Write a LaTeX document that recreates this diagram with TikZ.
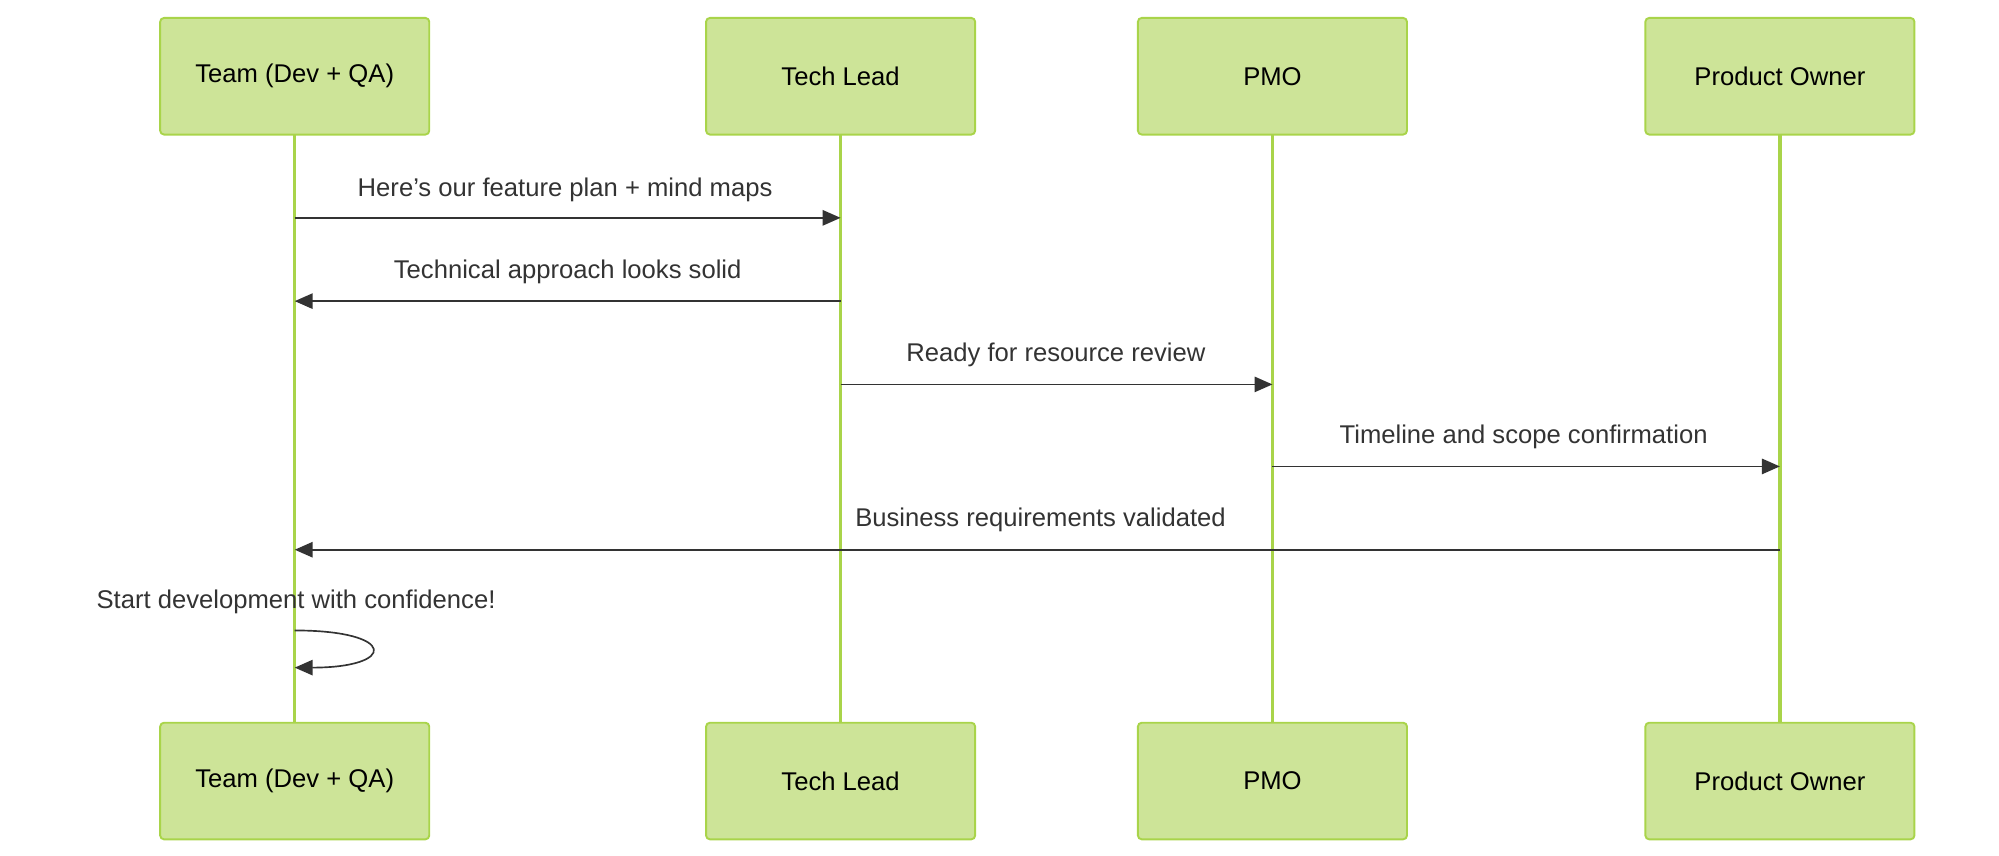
\documentclass[tikz,border=0pt]{standalone}
\usepackage{fontspec}
\setmainfont{Liberation Sans}
\usetikzlibrary{arrows.meta,positioning}
\definecolor{actfill}{HTML}{CDE498}
\definecolor{actline}{HTML}{A9D44A}
\definecolor{msgcol}{HTML}{333333}
\tikzset{
  actor/.style={draw=actline,fill=actfill,line width=1.5pt,rounded corners=3pt,
    minimum width=210pt,minimum height=91pt,font=\fontsize{20}{24}\selectfont,text=black},
  life/.style={draw=actline,line width=2.5pt},
  msg/.style={draw=msgcol,line width=1.3pt,-{Triangle[length=14pt,width=12pt]}},
  lbl/.style={font=\fontsize{20}{24}\selectfont,text=msgcol}
}
\begin{document}
\begin{tikzpicture}[x=1pt,y=1pt]
\useasboundingbox (0,0) rectangle (1560,-668);

% lifelines
\coordinate (Ttop) at (230,-105); \coordinate (Tbot) at (230,-564);
\coordinate (Ltop) at (656,-105); \coordinate (Lbot) at (656,-564);
\coordinate (Ptop) at (993,-105); \coordinate (Pbot) at (993,-564);
\coordinate (Otop) at (1389,-105); \coordinate (Obot) at (1389,-564);
\draw[life] (Ttop) -- (Tbot);
\draw[life] (Ltop) -- (Lbot);
\draw[life] (Ptop) -- (Pbot);
\draw[life] (Otop) -- (Obot);

% actors
\node[actor] (team)  at (230,-59.5)  {Team (Dev + QA)};
\node[actor] (lead)  at (656,-59.5)  {Tech Lead};
\node[actor] (pmo)   at (993,-59.5)  {PMO};
\node[actor] (owner) at (1389,-59.5) {Product Owner};
\node[actor] (team2)  at (230,-609.5)  {Team (Dev + QA)};
\node[actor] (lead2)  at (656,-609.5)  {Tech Lead};
\node[actor] (pmo2)   at (993,-609.5)  {PMO};
\node[actor] (owner2) at (1389,-609.5) {Product Owner};

% messages
\coordinate (m1a) at (230,-170); \coordinate (m1b) at (656,-170);
\coordinate (m2a) at (656,-235); \coordinate (m2b) at (230,-235);
\coordinate (m3a) at (656,-300); \coordinate (m3b) at (993,-300);
\coordinate (m4a) at (993,-364); \coordinate (m4b) at (1389,-364);
\coordinate (m5a) at (1389,-429); \coordinate (m5b) at (230,-429);
\draw[msg] (m1a) -- (m1b);
\draw[msg] (m2a) -- (m2b);
\draw[msg] (m3a) -- (m3b);
\draw[msg] (m4a) -- (m4b);
\draw[msg] (m5a) -- (m5b);
\node[lbl] at (441,-148) {Here's our feature plan + mind maps};
\node[lbl] at (443,-212) {Technical approach looks solid};
\node[lbl] at (824,-277) {Ready for resource review};
\node[lbl] at (1189,-341) {Timeline and scope confirmation};
\node[lbl] at (812,-406) {Business requirements validated};

% self message
\coordinate (s1) at (230,-492); \coordinate (s2) at (230,-521);
\draw[msg] (s1) .. controls (310,-492) and (310,-521) .. (s2);
\node[lbl] at (231,-470) {Start development with confidence!};
\end{tikzpicture}
\end{document}
